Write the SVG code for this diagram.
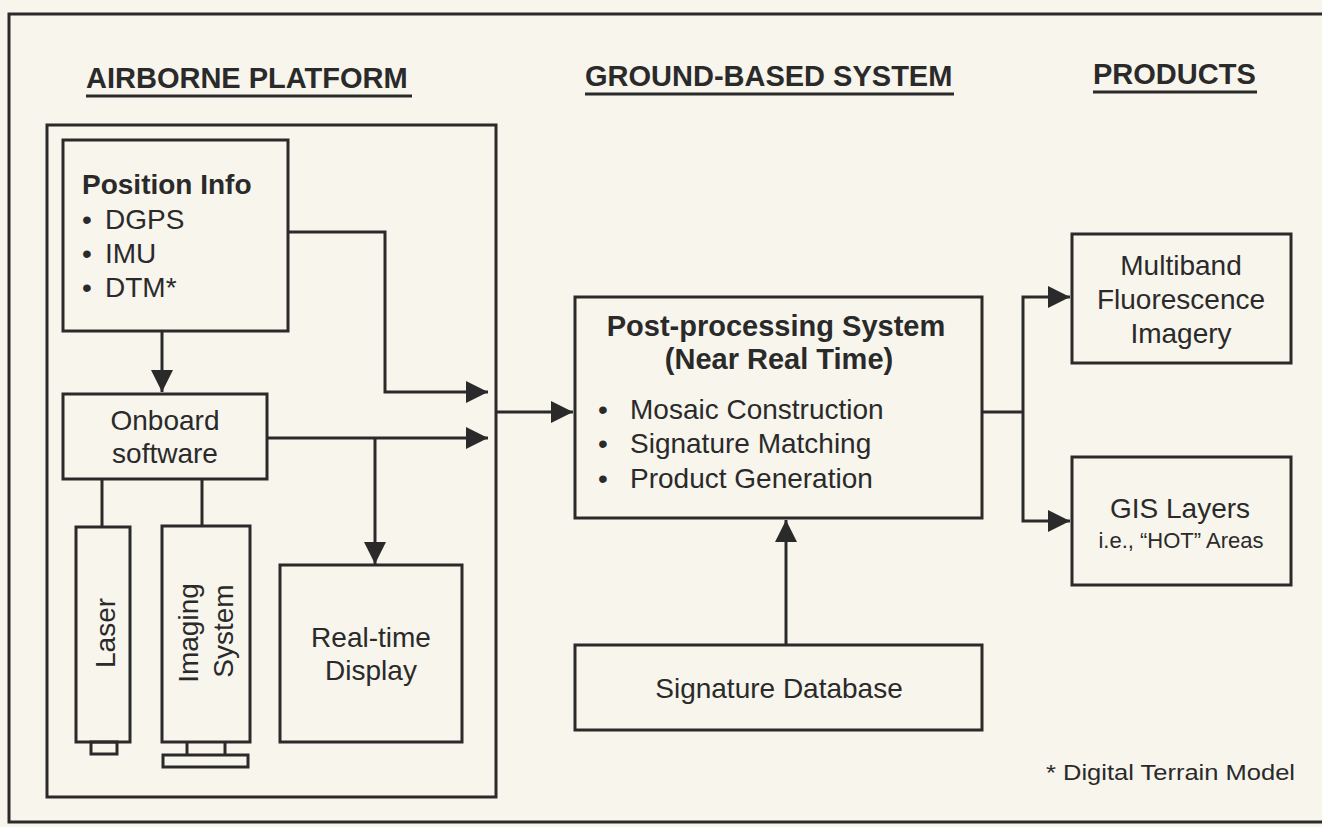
<svg xmlns="http://www.w3.org/2000/svg" width="1322" height="827" viewBox="0 0 1322 827">
<style>
text{font-family:"Liberation Sans",Arial,sans-serif;fill:#2a2a2a}
.h{font-size:29px;font-weight:bold}
.b{font-size:28px;font-weight:bold}
.t{font-size:28px}
.s{font-size:22px}
.f{font-size:22px}
.box{fill:none;stroke:#2a2a2a;stroke-width:3}
.ln{fill:none;stroke:#2a2a2a;stroke-width:3}
.m{text-anchor:middle}
</style>
<defs>
<marker id="ah" markerUnits="userSpaceOnUse" markerWidth="24" markerHeight="24" refX="22" refY="11" orient="auto">
<path d="M0,0 L22,11 L0,22 Z" fill="#2a2a2a"/>
</marker>
</defs>
<rect x="0" y="0" width="1322" height="827" fill="#f7f5ec"/>
<g id="frame">
<path d="M1322,14 H9 V822 H1322" class="ln" stroke-width="3.5"/>
</g>
<g id="headings">
<text class="h" x="86" y="88">AIRBORNE PLATFORM</text>
<line x1="86" y1="96" x2="412" y2="96" class="ln" stroke-width="2.5"/>
<text class="h" x="585" y="86">GROUND-BASED SYSTEM</text>
<line x1="585" y1="94" x2="954" y2="94" class="ln" stroke-width="2.5"/>
<text class="h" x="1093" y="84">PRODUCTS</text>
<line x1="1093" y1="92" x2="1257" y2="92" class="ln" stroke-width="2.5"/>
</g>
<g id="airborne">
<rect x="47" y="125" width="449" height="672" class="box"/>
</g>
<g id="position-info">
<rect x="63" y="140" width="225" height="191" class="box"/>
<text class="b" x="82" y="194">Position Info</text>
<text class="t" y="229"><tspan x="82">•</tspan><tspan x="105">DGPS</tspan></text>
<text class="t" y="263"><tspan x="82">•</tspan><tspan x="105">IMU</tspan></text>
<text class="t" y="297"><tspan x="82">•</tspan><tspan x="105">DTM*</tspan></text>
</g>
<g id="onboard">
<rect x="63" y="394" width="204" height="85" class="box"/>
<text class="t m" x="165" y="430">Onboard</text>
<text class="t m" x="165" y="463">software</text>
</g>
<g id="laser">
<rect x="76" y="527" width="54" height="215" class="box"/>
<rect x="91" y="742" width="26" height="12" class="box"/>
<text class="t m" transform="translate(115,633) rotate(-90)">Laser</text>
</g>
<g id="imaging">
<rect x="162" y="526" width="88" height="216" class="box"/>
<line x1="187" y1="742" x2="187" y2="755" class="ln"/>
<line x1="225" y1="742" x2="225" y2="755" class="ln"/>
<rect x="163" y="755" width="85" height="12" class="box"/>
<text class="t m" transform="translate(198,633) rotate(-90)">Imaging</text>
<text class="t m" transform="translate(233,631) rotate(-90)">System</text>
</g>
<g id="realtime">
<rect x="280" y="565" width="182" height="177" class="box"/>
<text class="t m" x="371" y="647">Real-time</text>
<text class="t m" x="371" y="680">Display</text>
</g>
<g id="postproc">
<rect x="575" y="297" width="407" height="221" class="box"/>
<text class="h m" x="776" y="336">Post-processing System</text>
<text class="h m" x="779" y="369">(Near Real Time)</text>
<text class="t" y="419"><tspan x="598">•</tspan><tspan x="630">Mosaic Construction</tspan></text>
<text class="t" y="453"><tspan x="598">•</tspan><tspan x="630">Signature Matching</tspan></text>
<text class="t" y="488"><tspan x="598">•</tspan><tspan x="630">Product Generation</tspan></text>
</g>
<g id="sigdb">
<rect x="575" y="645" width="407" height="85" class="box"/>
<text class="t m" x="779" y="698">Signature Database</text>
</g>
<g id="multiband">
<rect x="1072" y="234" width="219" height="129" class="box"/>
<text class="t m" x="1181" y="275">Multiband</text>
<text class="t m" x="1181" y="309">Fluorescence</text>
<text class="t m" x="1181" y="343">Imagery</text>
</g>
<g id="gis">
<rect x="1072" y="457" width="219" height="128" class="box"/>
<text class="t m" x="1180" y="518">GIS Layers</text>
<text class="s m" x="1181" y="548">i.e., “HOT” Areas</text>
</g>
<g id="footnote">
<text class="f" x="1046" y="780" textLength="249" lengthAdjust="spacingAndGlyphs">* Digital Terrain Model</text>
</g>
<g id="connectors">
<path d="M288,232 H385 V392 H488" class="ln" marker-end="url(#ah)"/>
<path d="M162,331 V392" class="ln" marker-end="url(#ah)"/>
<path d="M267,438 H488" class="ln" marker-end="url(#ah)"/>
<path d="M375,438 V564" class="ln" marker-end="url(#ah)"/>
<path d="M102,479 V527" class="ln"/>
<path d="M202,479 V526" class="ln"/>
<path d="M496,412 H573" class="ln" marker-end="url(#ah)"/>
<path d="M786,645 V520" class="ln" marker-end="url(#ah)"/>
<path d="M982,412 H1023" class="ln"/>
<path d="M1023,412 V297 H1070" class="ln" marker-end="url(#ah)"/>
<path d="M1023,412 V521 H1070" class="ln" marker-end="url(#ah)"/>
</g>
</svg>
